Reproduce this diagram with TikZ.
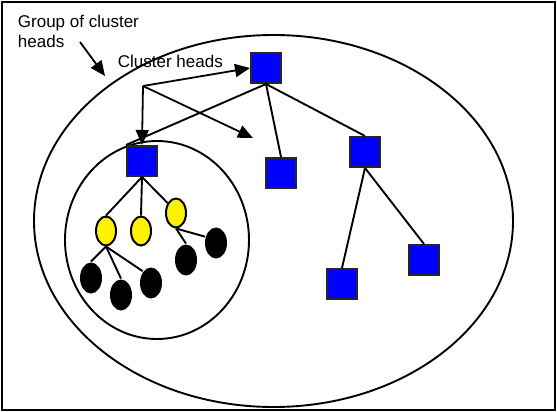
\documentclass[tikz,border=0pt]{standalone}
\usepackage{fontspec}
\setmainfont{Liberation Sans}
\usetikzlibrary{arrows.meta,shapes.geometric}

\tikzset{
  head/.style={draw=black!85,line width=2pt,fill=blue,minimum size=30pt,inner sep=0pt},
  member/.style={ellipse,draw=black,line width=2pt,fill=yellow,minimum width=20pt,minimum height=29pt,inner sep=0pt},
  sensor/.style={ellipse,fill=black,minimum width=22pt,minimum height=31pt,inner sep=0pt},
  pointer/.style={line width=1.8pt,-{Triangle[length=15pt,width=13pt]}},
  label/.style={font=\fontsize{17}{19.5}\selectfont,inner sep=0pt}
}

\begin{document}
\begin{tikzpicture}[x=1pt,y=-1pt,line width=1.9pt]
  \useasboundingbox (0,0) rectangle (557,412);
  % cadru
  \draw (2,2) rectangle (555,410);

  % elipsa mare si cercul mic
  \draw (273.5,221) ellipse (239.5 and 186);
  \draw (157,240) ellipse (92 and 99);

  % capete de cluster
  \node[head] (top) at (266,68) {};
  \node[head] (inner) at (142,161) {};
  \node[head] (sqa) at (281,173) {};
  \node[head] (sqb) at (365,152) {};
  \node[head] (sqc) at (342,284) {};
  \node[head] (sqd) at (424,260) {};

  % noduri din cluster
  \node[member] (ya) at (106,231) {};
  \node[member] (yb) at (141,231) {};
  \node[member] (yc) at (176,213) {};
  \node[sensor] (ba) at (91,278) {};
  \node[sensor] (bb) at (121,295) {};
  \node[sensor] (bc) at (151,283) {};
  \node[sensor] (bd) at (186,260) {};
  \node[sensor] (be) at (216,243) {};

  % legaturi
  \draw (top.south) -- (sqa.north);
  \draw (top.south) -- (sqb.north);
  \draw (top.south) -- (inner.north west);
  \draw (sqb.south) -- (sqc.north);
  \draw (sqb.south) -- (sqd.north);
  \draw (inner.south) -- (ya.north);
  \draw (inner.south) -- (yb.north);
  \draw (inner.south) -- (yc.130);
  \draw (ya.south) -- (ba.north);
  \draw (ya.south) -- (bb.north);
  \draw (ya.south) -- (bc.125);
  \draw (yc.south) -- (bd.north);
  \draw (yc.south) -- (be.150);

  % etichete
  \node[label,anchor=north west,align=left] (group) at (17,14.5) {Group of cluster\\heads};
  \node[label,anchor=base west] (heads) at (117,67) {Cluster heads};

  % sageti
  \coordinate (gstart) at (80,42);
  \coordinate (gend) at (105,76);
  \coordinate (hub) at (143,86);
  \coordinate (aim) at (253,138);
  \draw[pointer] (gstart) -- (gend);
  \draw[pointer] (hub) -- (top.west);
  \draw[pointer] (hub) -- (inner.north);
  \draw[pointer] (hub) -- (aim);
\end{tikzpicture}
\end{document}
